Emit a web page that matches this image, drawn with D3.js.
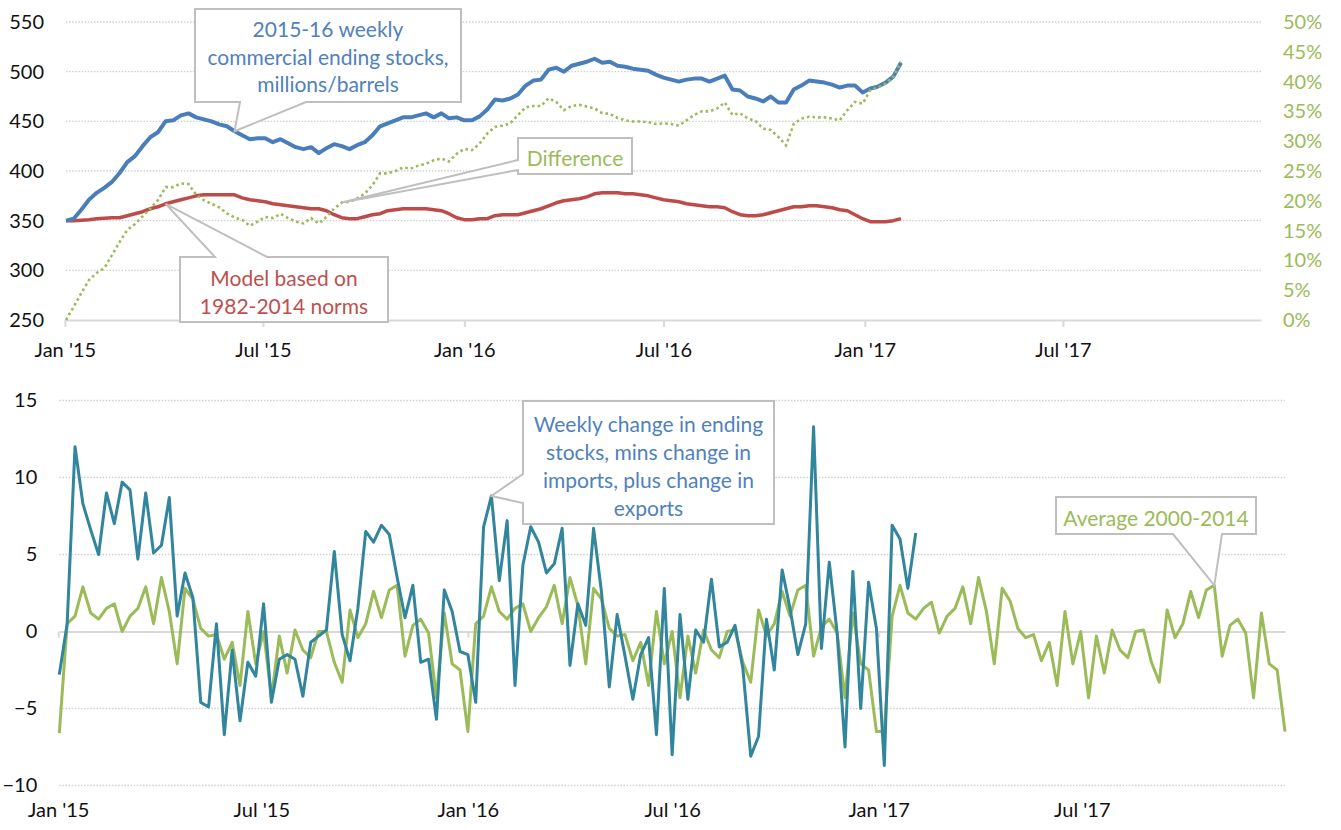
<!DOCTYPE html>
<html>
<head>
<meta charset="utf-8">
<script src="https://cdn.jsdelivr.net/npm/d3@7"></script>
<style>
  body { margin: 0; background: #fff; }
  text { font-family: Lato, "Open Sans", sans-serif; }
</style>
</head>
<body>
<svg id="chart" width="1341" height="830"></svg>
<script>
// weekly data, first week ending Jan 2 2015
const stocks = [350,352,361,371,378,383,389,398,409,415,425,434,439,450,451,456,458,454,452,450,
  447,445,440,436,432,433,433,429,432,428,424,422,424,418,423,427,425,422,426,429,
  436,445,448,451,454,454,456,458,454,458,453,454,451,451,455,462,472,471,473,477,
  486,491,492,502,504,500,506,508,510,513,509,510,506,505,503,502,501,497,494,492,
  490,492,493,493,490,493,496,482,481,475,473,470,475,469,469,482,486,491,490,489,
  487,484,486,486,479,483,485,489,495,509];

const model = [350,350,350.5,351,352,352.5,353,353,355,357,359,362,364,367,369,371,373,375,376,376,
  376,376,376,373,371,370,369,367,366,365,364,363,362,362,360,356,353,352,352,354,
  356,357,360,361,362,362,362,362,361,360,357,353,351,351,352,352,355,356,356,356,
  358,360,362,365,368,370,371,372,374,377,378,378,378,377,377,376,375,373,371,370,
  369,367,366,365,364,364,363,359,356,355,355,356,358,360,362,364,364,365,365,364,
  363,361,360,356,352,349,349,349,350,352];

// difference, percent (right axis)
const diffPct = [0,2.2,4.5,6.7,7.9,8.7,10.9,13.1,15.1,16.1,17.4,18.7,20.1,22.3,22.3,22.9,22.8,21.0,20.1,19.5,
  18.9,17.9,17.2,16.8,15.8,16.5,17.3,17.1,17.8,17.1,16.5,16.2,17.1,16.2,17.3,18.7,19.7,19.8,20.4,21.2,
  22.6,24.6,24.6,25.0,25.6,25.4,25.9,26.2,26.8,27.1,26.6,27.9,28.7,28.5,29.6,31.3,32.4,32.6,33.0,34.4,
  35.7,35.9,35.9,37.2,36.6,35.2,35.9,36.1,35.8,35.5,34.7,34.6,33.9,33.5,33.3,33.3,33.2,32.9,33.0,32.9,
  32.6,33.5,34.4,35.0,35.0,35.5,36.5,34.4,34.7,33.8,33.4,32.1,31.9,30.7,29.3,32.9,33.8,34.1,34.0,34.0,
  33.8,33.5,35.2,36.6,36.3,38.6,39.0,39.7,40.8,43.3];

const weeklyChange = [-2.8,0.5,12.0,8.3,6.6,5.0,9.0,7.0,9.7,9.2,4.7,9.0,5.1,5.6,8.7,1.0,3.8,2.2,-4.6,-4.9,
  0.5,-6.7,-1.2,-5.8,-2.0,-2.9,1.8,-4.6,-1.8,-1.5,-1.8,-4.2,-0.7,-0.3,0.1,5.2,-0.2,-1.9,1.5,6.5,
  5.8,6.9,6.3,3.5,0.9,3.0,-2.0,-1.8,-5.7,2.7,1.3,-1.3,-1.5,-4.6,6.8,8.8,3.3,7.2,-3.5,4.3,
  6.8,5.8,3.8,4.4,6.7,-2.2,1.8,0.4,6.7,2.6,-3.6,1.1,-1.6,-4.4,-1.5,-0.4,-6.7,2.8,-8.0,1.1,
  -4.4,0.1,-0.7,3.4,-1.0,-0.7,0.4,-2.4,-8.1,-6.8,0.8,-2.5,4.0,1.5,-1.5,0.5,13.3,-1.1,4.5,-0.1,
  -7.5,3.9,-5.0,3.2,0.2,-8.7,6.9,6.0,2.8,6.4];

const avgChange = [-6.6,0.5,1.0,2.9,1.2,0.8,1.5,1.8,0.0,1.0,1.5,2.9,0.5,3.5,1.3,-2.1,2.8,2.1,0.2,-0.3,
  -0.2,-1.8,-0.7,-3.5,1.3,-2.1,0.0,-4.3,-0.3,-2.7,0.1,-1.2,-1.7,0.0,0.0,-2.0,-3.3,1.4,-0.4,0.5,
  2.6,0.9,2.7,3.0,-1.6,0.4,0.8,-0.1,-4.3,1.2,-2.1,-2.5,-6.5,0.5,1.0,2.9,1.3,0.8,1.5,1.8,
  0.0,0.9,1.6,3.0,0.5,3.5,1.7,-2.1,2.8,2.1,0.2,-0.3,-0.2,-1.9,-0.7,-3.5,1.3,-2.1,0.0,-4.3,
  -0.3,-2.7,0.1,-1.2,-1.7,0.0,0.1,-2.0,-3.3,1.4,-0.3,0.5,2.6,1.0,2.7,3.0,-1.6,0.3,0.8,-0.1,
  -4.3,1.2,-2.1,-2.5,-6.5,-6.5,1.0,3.0,1.2,0.8,1.5,1.9,-0.1,1.0,1.5,2.9,0.5,3.5,1.3,-2.1,
  2.8,2.0,0.2,-0.4,-0.2,-1.9,-0.7,-3.5,1.3,-2.1,0.0,-4.3,-0.3,-2.7,0.1,-1.2,-1.7,0.0,0.1,-2.0,
  -3.3,1.4,-0.4,0.5,2.6,0.9,2.7,3.0,-1.6,0.4,0.8,-0.1,-4.3,1.2,-2.1,-2.5,-6.5];

const leftTicks = [250,300,350,400,450,500,550];
const rightTicks = [0,5,10,15,20,25,30,35,40,45,50];
const bottomTicks = [-10,-5,0,5,10,15];
const dateTicks = ["2015-01-01","2015-07-01","2016-01-01","2016-07-01","2017-01-01","2017-07-01"];
const yearTicks = ["2015-01-01","2016-01-01","2017-01-01"];

const firstWeek = new Date(2015, 0, 2);
const lastWeek = new Date(2017, 11, 29);
const week = i => d3.timeDay.offset(firstWeek, 7 * i);
const parseDay = d3.timeParse("%Y-%m-%d");
const fmtTick = d3.timeFormat("%b '%y");

const svg = d3.select("#chart");

const blue = "#4A7EBB", red = "#BE4B48", green = "#9BBB59", teal = "#31859C";
const gridColor = "#CFCFCF", axisColor = "#D9D9D9", labelColor = "#111";
const axisFont = 20;

// ---------- top panel ----------
const xTop = d3.scaleTime().domain([firstWeek, lastWeek]).range([66, 1261]);
const yLeft = d3.scaleLinear().domain([250, 550]).range([320, 22]);
const yRight = d3.scaleLinear().domain([0, 50]).range([320, 22]);

const gTop = svg.append("g");

gTop.append("g")
  .selectAll("line")
  .data(leftTicks.filter(d => d !== 250))
  .join("line")
  .attr("x1", 66).attr("x2", 1261)
  .attr("y1", d => yLeft(d)).attr("y2", d => yLeft(d))
  .attr("stroke", gridColor).attr("stroke-width", 1.3)
  .attr("stroke-dasharray", "1.5,1.6");

const axTop = gTop.append("g")
  .attr("transform", "translate(0,320)")
  .call(d3.axisBottom(xTop)
    .tickValues(dateTicks.map(parseDay))
    .tickFormat(fmtTick)
    .tickSizeInner(7).tickSizeOuter(0).tickPadding(16));
axTop.select(".domain").attr("stroke", axisColor).attr("stroke-width", 2);
axTop.selectAll(".tick line").attr("stroke", axisColor).attr("stroke-width", 2);
axTop.selectAll("text").attr("font-size", axisFont).attr("fill", labelColor);

const axLeft = gTop.append("g")
  .attr("transform", "translate(66,0)")
  .call(d3.axisLeft(yLeft).tickValues(leftTicks).tickSize(0).tickPadding(22));
axLeft.select(".domain").remove();
axLeft.selectAll("text").attr("font-size", axisFont).attr("fill", labelColor);

const axRight = gTop.append("g")
  .attr("transform", "translate(1261,0)")
  .call(d3.axisRight(yRight).tickValues(rightTicks).tickSize(0).tickPadding(22)
    .tickFormat(d => d + "%"));
axRight.select(".domain").remove();
axRight.selectAll("text").attr("font-size", axisFont).attr("fill", green);

const lineLeft = d3.line().x((d, i) => xTop(week(i))).y(d => yLeft(d));
const lineRight = d3.line().x((d, i) => xTop(week(i))).y(d => yRight(d));

gTop.append("path").datum(model).attr("d", lineLeft)
  .attr("fill", "none").attr("stroke", red).attr("stroke-width", 3.5)
  .attr("stroke-linejoin", "round");
gTop.append("path").datum(stocks).attr("d", lineLeft)
  .attr("fill", "none").attr("stroke", blue).attr("stroke-width", 4)
  .attr("stroke-linejoin", "round");
gTop.append("path").datum(diffPct).attr("d", lineRight)
  .attr("fill", "none").attr("stroke", green).attr("stroke-width", 2.6)
  .attr("stroke-dasharray", "2.6,3");

// ---------- bottom panel ----------
const xBot = d3.scaleTime().domain([firstWeek, lastWeek]).range([59.3, 1285]);
const yBot = d3.scaleLinear().domain([-10, 15]).range([785.5, 400.5]);

const gBot = svg.append("g");

gBot.append("g")
  .selectAll("line")
  .data(bottomTicks.filter(d => d !== 0))
  .join("line")
  .attr("x1", 59.3).attr("x2", 1285)
  .attr("y1", d => yBot(d)).attr("y2", d => yBot(d))
  .attr("stroke", gridColor).attr("stroke-width", 1.3)
  .attr("stroke-dasharray", "1.5,1.6");

const axZero = gBot.append("g")
  .attr("transform", `translate(0,${yBot(0)})`)
  .call(d3.axisBottom(xBot).tickValues(yearTicks.map(parseDay))
    .tickFormat("").tickSizeInner(6).tickSizeOuter(0));
axZero.select(".domain").attr("stroke", axisColor).attr("stroke-width", 2);
axZero.selectAll(".tick line").attr("stroke", axisColor).attr("stroke-width", 2);

const axBot = gBot.append("g")
  .attr("transform", `translate(0,${yBot(-10)})`)
  .call(d3.axisBottom(xBot)
    .tickValues(dateTicks.map(parseDay))
    .tickFormat(fmtTick).tickSize(0).tickPadding(17));
axBot.select(".domain").remove();
axBot.selectAll("text").attr("font-size", axisFont).attr("fill", labelColor);

const axBotLeft = gBot.append("g")
  .attr("transform", "translate(59.3,0)")
  .call(d3.axisLeft(yBot).tickValues(bottomTicks).tickSize(0).tickPadding(22));
axBotLeft.select(".domain").remove();
axBotLeft.selectAll("text").attr("font-size", axisFont).attr("fill", labelColor);

const lineBot = d3.line().x((d, i) => xBot(week(i))).y(d => yBot(d));

gBot.append("path").datum(avgChange).attr("d", lineBot)
  .attr("fill", "none").attr("stroke", green).attr("stroke-width", 3)
  .attr("stroke-linejoin", "round");
gBot.append("path").datum(weeklyChange).attr("d", lineBot)
  .attr("fill", "none").attr("stroke", teal).attr("stroke-width", 3)
  .attr("stroke-linejoin", "round");

// ---------- callouts ----------
// box = [x0,y0,x1,y1]; side = where the pointer leaves the box; a,b = pointer base
function callout(box, side, a, b, tip, lines, lineY, color) {
  const [x0, y0, x1, y1] = box;
  const t = `L${tip[0]},${tip[1]}`;
  let p;
  if (side === "bottom") {
    p = `M${x0},${y0}H${x1}V${y1}H${b}${t}L${a},${y1}H${x0}Z`;
  } else if (side === "top") {
    p = `M${x0},${y0}H${a}${t}L${b},${y0}H${x1}V${y1}H${x0}Z`;
  } else { // left
    p = `M${x0},${y0}H${x1}V${y1}H${x0}V${b}${t}L${x0},${a}Z`;
  }
  const g = svg.append("g");
  g.append("path").attr("d", p)
    .attr("fill", "#fff").attr("stroke", "#BFBFBF").attr("stroke-width", 2);
  g.selectAll("text").data(lines).join("text")
    .attr("x", (x0 + x1) / 2)
    .attr("y", (d, i) => lineY[i])
    .attr("text-anchor", "middle")
    .attr("dominant-baseline", "central")
    .attr("font-size", 21)
    .attr("fill", color)
    .text(d => d);
}

callout([195, 9, 461, 102], "bottom", 240, 306,
  [xTop(week(22)), yLeft(stocks[22])],
  ["2015-16 weekly", "commercial ending stocks,", "millions/barrels"], [28, 56, 83], "#4F81BD");

callout([180, 257, 388, 322], "top", 215, 267,
  [xTop(week(13)), yLeft(model[13])],
  ["Model based on", "1982-2014 norms"], [277, 305], "#C0504D");

callout([518, 138, 632, 174], "left", 160, 170,
  [xTop(week(36)), yRight(diffPct[36])],
  ["Difference"], [157], green);

callout([523, 401, 774, 524], "left", 474, 503,
  [xBot(week(55)), yBot(weeklyChange[55])],
  ["Weekly change in ending", "stocks, mins change in", "imports, plus change in", "exports"],
  [423, 451, 479, 507], "#4F81BD");

callout([1056, 497, 1256, 534], "bottom", 1173, 1222,
  [xBot(week(147)), yBot(avgChange[147])],
  ["Average 2000-2014"], [517], green);
</script>
</body>
</html>
